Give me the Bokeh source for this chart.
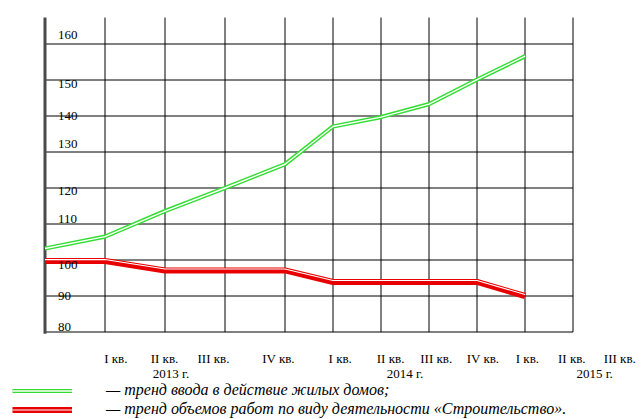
import numpy as np
from bokeh.plotting import figure
from bokeh.models import Range1d, Legend, LegendItem
from bokeh.core.properties import value
from bokeh.embed import file_html
from bokeh.resources import INLINE

# ---- data -------------------------------------------------------------
quarter_labels = ["I кв.", "II кв.", "III кв.", "IV кв.",
                  "I кв.", "II кв.", "III кв.", "IV кв.",
                  "I кв.", "II кв.", "III кв."]
year_labels = ["2013 г.", "2014 г.", "2015 г."]
# point index 0 = IV кв. 2012 (on the axis), 1..9 = I кв. 2013 .. I кв. 2015
housing = [103.2, 106.5, 113.6, 120.0, 126.6, 137.1, 139.7, 143.3, 150.1, 156.6]
construction = [99.7, 99.7, 97.1, 97.1, 97.1, 93.9, 93.9, 93.9, 93.9, 90.0]
y_ticks = [80, 90, 100, 110, 120, 130, 140, 150, 160]
legend_labels = ["— тренд ввода в действие жилых домов;",
                 "— тренд объемов работ по виду деятельности «Строительство»."]

# ---- layout -------------------------------------------------------------
W, H = 641, 419
col_w = [5, 5, 5, 5, 4, 4, 4, 4, 4, 4, 4]          # uneven quarter columns
xpos = np.concatenate([[0], np.cumsum(col_w)]).astype(float)
# where the captions sit (in column units / value units), as in the original drawing
quarter_label_at = [5.9, 9.96, 14.04, 19.46, 24.6, 28.8, 32.6, 36.5, 40.2, 43.9, 47.9]
year_label_at = [10.5, 30.0, 45.8]
tick_label_at = [81.5, 90.1, 98.5, 111.3, 119.3, 132.1, 140.1, 148.8, 162.4]

px_x = 12.0          # px per x unit
px_y = 3.6           # px per y unit
ox, oy = 44.5, 331.5  # page position of (0, 80)
y0 = 80
grid_top = y0 + (oy - 17) / px_y

xr = Range1d(-ox / px_x, (W - ox) / px_x)
yr = Range1d(y0 - (H - oy) / px_y, y0 + oy / px_y)

p = figure(width=W, height=H, output_backend="svg", toolbar_location=None,
           x_range=xr, y_range=yr, min_border=0)
p.axis.visible = False
p.grid.visible = False
p.outline_line_color = None
p.background_fill_color = "white"
p.border_fill_color = "white"

shift = 1.5 / px_y
p.extra_y_ranges = {"shift": Range1d(yr.start - shift, yr.end - shift)}

x_right = xpos[10]
# vertical grid lines
vx = list(xpos[1:11])
p.segment(x0=vx, y0=[y0] * len(vx), x1=vx, y1=[grid_top] * len(vx),
          line_color="black", line_width=1)
# horizontal grid lines
hy = y_ticks[1:]
p.segment(x0=[0] * len(hy), y0=hy, x1=[x_right] * len(hy), y1=hy,
          line_color="black", line_width=1)
# bottom axis line
p.segment(x0=[0], y0=[y0], x1=[x_right], y1=[y0], line_color="black", line_width=1)
# left axis line
p.segment(x0=[0], y0=[y0 - 0.5], x1=[0], y1=[grid_top], line_color="#4a4a4a", line_width=3)

x = xpos[:10]
g1 = p.line(x, housing, line_color="#33dd33", line_width=4.2)
g2 = p.line(x, housing, line_color="white", line_width=1.4)
r1 = p.line(x, construction, line_color="#e80000", line_width=6)
r2 = p.line(x, construction, line_color="white", line_width=1.1, y_range_name="shift")

serif = value("Liberation Serif")

# y tick labels (inside the plot, right of the axis)
p.text(x=[13 / px_x] * len(y_ticks), y=tick_label_at,
       text=[str(v) for v in y_ticks], text_font=serif, text_font_size="13px",
       text_color="black", text_baseline="middle", text_align="left")

# quarter labels
p.text(x=quarter_label_at, y=[y0 - 26 / px_y] * 11, text=quarter_labels,
       text_font=serif, text_font_size="13px", text_color="black",
       text_baseline="middle", text_align="center")

# year labels
p.text(x=year_label_at, y=[y0 - 41 / px_y] * 3, text=year_labels,
       text_font=serif, text_font_size="13px", text_color="black",
       text_baseline="middle", text_align="center")

legend = Legend(items=[LegendItem(label=legend_labels[0], renderers=[g1, g2]),
                       LegendItem(label=legend_labels[1], renderers=[r1, r2])],
                location=(12, 1), orientation="vertical",
                glyph_width=60, glyph_height=17, label_height=17, label_standoff=34,
                spacing=1, padding=0, margin=0,
                border_line_color=None, background_fill_alpha=0,
                label_text_font="Liberation Serif", label_text_font_size="16px",
                label_text_font_style="italic", label_text_color="black")
p.add_layout(legend)

open("out.html", "w").write(file_html(p, INLINE))
